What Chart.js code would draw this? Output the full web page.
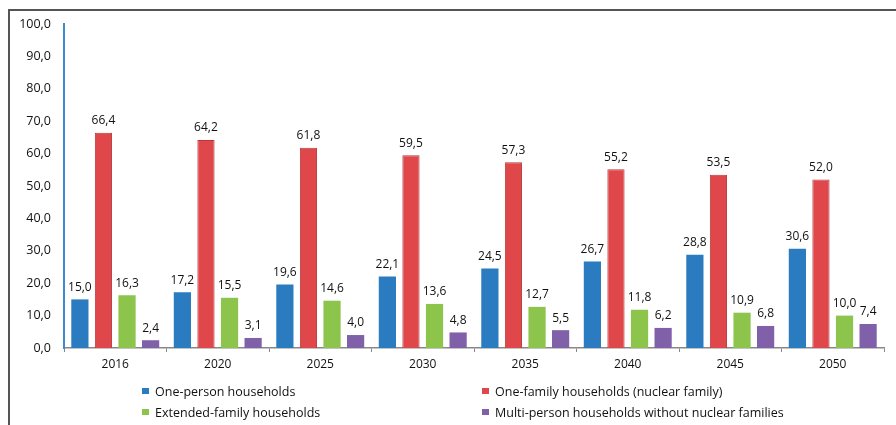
<!DOCTYPE html>
<html>
<head>
<meta charset="utf-8">
<script src="https://cdn.jsdelivr.net/npm/chart.js@4"></script>
<style>
  html, body { margin: 0; padding: 0; background: #fff; overflow: hidden; }
  #wrap { position: relative; width: 896px; height: 425px; }
  #myChart { position: absolute; left: 0; top: 0; }
  #legend { position: absolute; left: 142px; top: 383px; font: 12.5px "Open Sans", sans-serif; color: #111;
            display: grid; grid-template-columns: 340px 400px; row-gap: 4px; }
  #legend span.sw { display: inline-block; width: 7px; height: 6px; margin-right: 6px; vertical-align: 2px; }
</style>
</head>
<body>
<div id="wrap">
  <canvas id="myChart" width="896" height="425"></canvas>
  <div id="legend"></div>
</div>
<script>
let years = ['2016', '2020', '2025', '2030', '2035', '2040', '2045', '2050']

let onePerson = [15.0, 17.2, 19.6, 22.1, 24.5, 26.7, 28.8, 30.6]
let oneFamily = [66.4, 64.2, 61.8, 59.5, 57.3, 55.2, 53.5, 52.0]
let extended = [16.3, 15.5, 14.6, 13.6, 12.7, 11.8, 10.9, 10.0]
let multiPerson = [2.4, 3.1, 4.0, 4.8, 5.5, 6.2, 6.8, 7.4]

let seriesNames = [
    'One-person households',
    'One-family households (nuclear family)',
    'Extended-family households',
    'Multi-person households without nuclear families'
]
let colors = ['#2b7bc0', '#e0474a', '#8cc44c', '#8060a8']
let edges = ['#2b7bc0', '#b8383b', '#8cc44c', '#8060a8']

const comma = v => v.toFixed(1).replace('.', ',')

// grey frame: top and left edges, the rest runs off the page
const frame = {
    id: 'frame',
    afterDraw(chart) {
        const ctx = chart.ctx
        ctx.save()
        ctx.fillStyle = '#555'
        ctx.fillRect(8, 9, chart.width - 8, 2)
        ctx.fillRect(8, 9, 2, chart.height - 9)
        ctx.restore()
    }
}

// numbers above every bar
const valueLabels = {
    id: 'valueLabels',
    afterDatasetsDraw(chart) {
        const ctx = chart.ctx
        ctx.save()
        ctx.font = '12px "Open Sans", sans-serif'
        ctx.fillStyle = '#111'
        ctx.textAlign = 'center'
        ctx.textBaseline = 'bottom'
        chart.data.datasets.forEach((ds, i) => {
            chart.getDatasetMeta(i).data.forEach((bar, j) => {
                ctx.fillText(comma(ds.data[j]), bar.x, bar.y - 6)
            })
        })
        ctx.restore()
    }
}

const ctx = document.getElementById('myChart')
const datas = new Chart(ctx, {
    type: 'bar',
    data: {
        labels: years,
        datasets: [onePerson, oneFamily, extended, multiPerson].map((d, i) => ({
            label: seriesNames[i],
            data: d,
            backgroundColor: colors[i],
            borderColor: edges[i],
            borderWidth: i == 1 ? 1 : 0,
            categoryPercentage: 0.92,
            barPercentage: 0.73
        }))
    },
    options: {
        responsive: false,
        animation: false,
        layout: { padding: { left: 8, right: 12, top: 24, bottom: 47 } },
        plugins: {
            legend: { display: false },
            tooltip: { enabled: false }
        },
        scales: {
            x: {
                grid: { display: true, drawOnChartArea: false, tickLength: 4, color: '#888' },
                border: { color: '#888', width: 1.5 },
                ticks: { color: '#111', font: { family: '"Open Sans", sans-serif', size: 12 }, padding: 5 },
                afterFit: s => { s.height = 30 }
            },
            y: {
                min: 0,
                max: 100,
                grid: { display: false },
                border: { color: '#3d8ad0', width: 2 },
                ticks: {
                    stepSize: 10,
                    color: '#111',
                    padding: 5,
                    font: { family: '"Open Sans", sans-serif', size: 12.5 },
                    callback: v => comma(v)
                },
                afterFit: s => { s.width = 56 }
            }
        }
    },
    plugins: [frame, valueLabels]
})

// two-column legend underneath
const legend = document.getElementById('legend')
seriesNames.forEach((name, i) => {
    const item = document.createElement('div')
    item.innerHTML = '<span class="sw" style="background:' + colors[i] + '"></span>' + name
    legend.appendChild(item)
})
</script>
</body>
</html>
